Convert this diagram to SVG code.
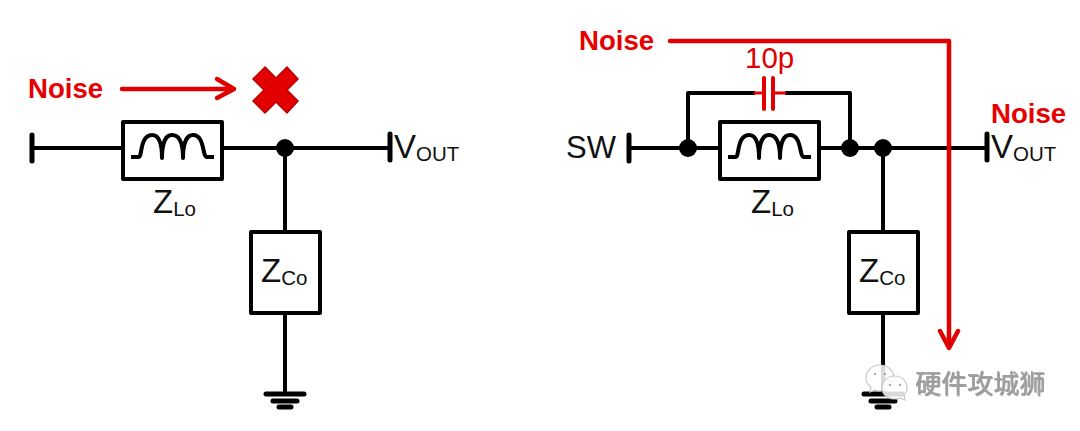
<svg xmlns="http://www.w3.org/2000/svg" width="1080" height="431" viewBox="0 0 1080 431">
<style>
.w{fill:none;stroke:#000;stroke-width:4;stroke-linejoin:round}
.b{fill:none;stroke:#000;stroke-width:5;stroke-linecap:round}
.box{fill:#fff;stroke:#000;stroke-width:4;stroke-linejoin:round}
.coil{fill:none;stroke:#000;stroke-width:4;stroke-linejoin:round}
.r{fill:none;stroke:#e00000;stroke-linecap:round;stroke-linejoin:round}
.d{fill:#000}
text{font-family:"Liberation Sans",Arial,sans-serif;fill:#111}
.n{font-size:27.600px;font-weight:700;fill:#e60000}
.t{font-size:33px}
.s{font-size:20.500px}
.wm{font-family:"Noto Sans CJK SC","Liberation Sans",sans-serif;font-size:26px;fill:#a0a0a0}
.bub{fill:#fff;fill-opacity:.85;stroke:#c8c8c8;stroke-width:1.200}
</style>
<defs>
<path id="coilp" class="coil" d="M0 0H8C11 0 9-22 21-22C29-22 31-12 31 1C31-12 34-22 41-22C49-22 52-12 52 1C52-12 55-22 62-22C74-22 71 0 76 0H83"/>
<g id="gnd"><path class="b" d="M-19 0H19M-12 7H12M-6 13H6"/></g>
<filter id="emboss" x="-5%" y="-5%" width="110%" height="120%"><feDropShadow dx="0.800" dy="0.800" stdDeviation="0.400" flood-color="#555" flood-opacity="0.700"/></filter>
</defs>

<g id="connectors">
<path class="w" d="M32 148H123M222 148H390M285 148V232M285 313V394"/>
<path class="b" d="M32 135V161M390 134V160"/>
<path class="w" d="M629 148H720M819 148H987M883 148V232M883 313V394M688 148V93H755M785 93H850V148"/>
<path class="b" d="M629 135V161M987 134V160"/>
<use href="#gnd" x="285" y="394"/>
<use href="#gnd" x="883" y="394"/>
</g>

<g id="noise-left">
<text class="n" x="28" y="98">Noise</text>
<path class="r" stroke-width="4.500" d="M122 89H233M217 79L234 89L217 98"/>
<path fill="#e20000" stroke="#b80000" stroke-width="1.500" d="M265 67L276 78L287 67L298 79L287 90L298 101L287 113L276 102L265 113L253 101L264 90L253 79Z"/>
</g>
<g id="zlo-left"><rect class="box" x="123" y="122" width="99" height="57"/><use href="#coilp" x="131" y="157"/>
<text class="t" x="153" y="213">Z<tspan class="s" dy="3">Lo</tspan></text></g>
<circle id="dot-left" class="d" cx="285" cy="148" r="9"/>
<g id="vout-left"><text class="t" x="394" y="158">V<tspan class="s" dy="3">OUT</tspan></text></g>
<g id="zco-left"><rect class="box" x="251" y="232" width="69" height="81"/>
<text class="t" x="261" y="282">Z<tspan class="s" dy="3">Co</tspan></text></g>

<g id="noise-right">
<text class="n" x="579" y="50">Noise</text>
<text class="n" x="991" y="123">Noise</text>
<path class="r" stroke-width="4.500" d="M670 41H949V346M940 331L949 348L958 331"/>
</g>
<g id="cap"><path class="r" stroke-width="3" d="M755 93H764M773 93H785"/><path class="r" stroke-width="4" d="M764 78V109M773 78V109"/>
<text x="745" y="68" font-size="29.500" style="fill:#e00000">10p</text></g>
<g id="sw"><text x="566" y="158" font-size="31">SW</text></g>
<g id="zlo-right"><rect class="box" x="720" y="122" width="99" height="57"/><use href="#coilp" x="728" y="157"/>
<text class="t" x="751" y="213">Z<tspan class="s" dy="3">Lo</tspan></text></g>
<circle id="dot-a" class="d" cx="688" cy="148" r="9"/>
<circle id="dot-b" class="d" cx="850" cy="148" r="9"/>
<circle id="dot-c" class="d" cx="883" cy="148" r="9"/>
<g id="vout-right"><text class="t" x="991" y="158">V<tspan class="s" dy="3">OUT</tspan></text></g>
<g id="zco-right"><rect class="box" x="849" y="232" width="69" height="81"/>
<text class="t" x="859" y="282">Z<tspan class="s" dy="3">Co</tspan></text></g>

<g id="watermark">
<path class="bub" d="M880 365C872 365 866 371 866 378C866 382 868 385 871 387L870 392L875 390C877 391 878 391 880 391C888 391 894 385 894 378C894 371 888 365 880 365Z"/>
<path class="bub" d="M895 376C887 376 882 381 882 388C882 394 887 399 895 399C897 399 899 399 900 398L905 400L904 395C906 393 907 391 907 388C907 381 902 376 895 376Z"/>
<circle cx="875" cy="374" r="1.200" fill="#aaa"/><circle cx="885" cy="374" r="1.200" fill="#aaa"/>
<circle cx="890" cy="385" r="1.200" fill="#aaa"/><circle cx="900" cy="385" r="1.200" fill="#aaa"/>
<text class="wm" x="915" y="393" filter="url(#emboss)">硬件攻城狮</text>
</g>
</svg>
